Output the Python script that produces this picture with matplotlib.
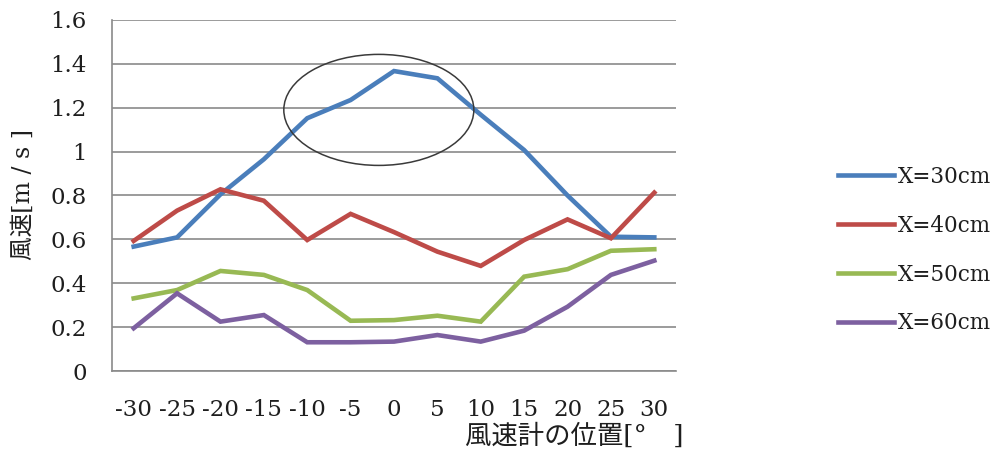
import matplotlib
matplotlib.use("Agg")
import matplotlib.pyplot as plt
from matplotlib.patches import Ellipse

# Anemometer positions (degrees) and measured wind speeds (m/s)
positions = ["-30", "-25", "-20", "-15", "-10", "-5", "0", "5", "10", "15", "20", "25", "30"]
x30 = [0.567, 0.609, 0.805, 0.965, 1.152, 1.235, 1.367, 1.334, 1.168, 1.007, 0.800, 0.612, 0.609]
x40 = [0.593, 0.731, 0.828, 0.776, 0.597, 0.716, 0.633, 0.544, 0.479, 0.597, 0.691, 0.605, 0.813]
x50 = [0.331, 0.369, 0.456, 0.438, 0.369, 0.229, 0.232, 0.252, 0.225, 0.430, 0.464, 0.548, 0.555]
x60 = [0.195, 0.354, 0.225, 0.255, 0.131, 0.131, 0.134, 0.164, 0.134, 0.184, 0.293, 0.438, 0.503]

series_labels = ["X=30cm", "X=40cm", "X=50cm", "X=60cm"]
series_colors = ["#4A7EBB", "#BE4B48", "#98B954", "#7D60A0"]

serif_jp = ["DejaVu Serif", "Noto Sans CJK JP"]
fs = 16.5
leg_fs = 15.5
ink = "#1e1e1e"

fig = plt.figure(figsize=(10, 4.53), dpi=100)
ax = fig.add_axes([0.112, 0.181, 0.564, 0.775])

xs = list(range(len(positions)))
for vals, lab, col in zip([x30, x40, x50, x60], series_labels, series_colors):
    ax.plot(xs, vals, color=col, lw=3.3, label=lab, solid_joinstyle="miter")

# Highlight around the peak region
ax.add_patch(Ellipse((5.65, 1.19), 4.38, 0.506, fill=False,
                     edgecolor="#3a3a3a", lw=1.1, zorder=4))

ax.set_xlim(-0.5, 12.5)
ax.set_ylim(0, 1.6)
ax.set_yticks([0, 0.2, 0.4, 0.6, 0.8, 1.0, 1.2, 1.4, 1.6])
ax.set_yticklabels(["0", "0.2", "0.4", "0.6", "0.8", "1", "1.2", "1.4", "1.6"],
                   family=serif_jp, fontsize=fs, color=ink)
ax.set_xticks(xs)
ax.set_xticklabels(positions, family=serif_jp, fontsize=fs, color=ink)
ax.tick_params(axis="y", length=0, pad=18)
ax.tick_params(axis="x", length=0, pad=20)

ax.grid(axis="y", color="#8a8a8a", lw=1.2)
ax.set_axisbelow(True)
for side in ["top", "right"]:
    ax.spines[side].set_visible(False)
for side in ["left", "bottom"]:
    ax.spines[side].set_color("#8a8a8a")
    ax.spines[side].set_linewidth(1.2)

fig.text(0.023, 0.570, "風速[m / s ]", rotation=90, ha="center", va="center",
         family=serif_jp, fontsize=17, color=ink)
fig.text(0.574, 0.0375, "風速計の位置[°\u3000]", ha="center", va="center",
         family=serif_jp, fontsize=19, color=ink)

leg = ax.legend(loc="center left", bbox_to_anchor=(0.838, 0.448),
                bbox_transform=fig.transFigure, frameon=False,
                borderpad=0, borderaxespad=0, handlelength=2.6,
                handletextpad=0.2, labelspacing=1.25,
                prop={"family": serif_jp, "size": leg_fs})
for t in leg.get_texts():
    t.set_color(ink)

fig.savefig("out.png", dpi=100, facecolor="white")
